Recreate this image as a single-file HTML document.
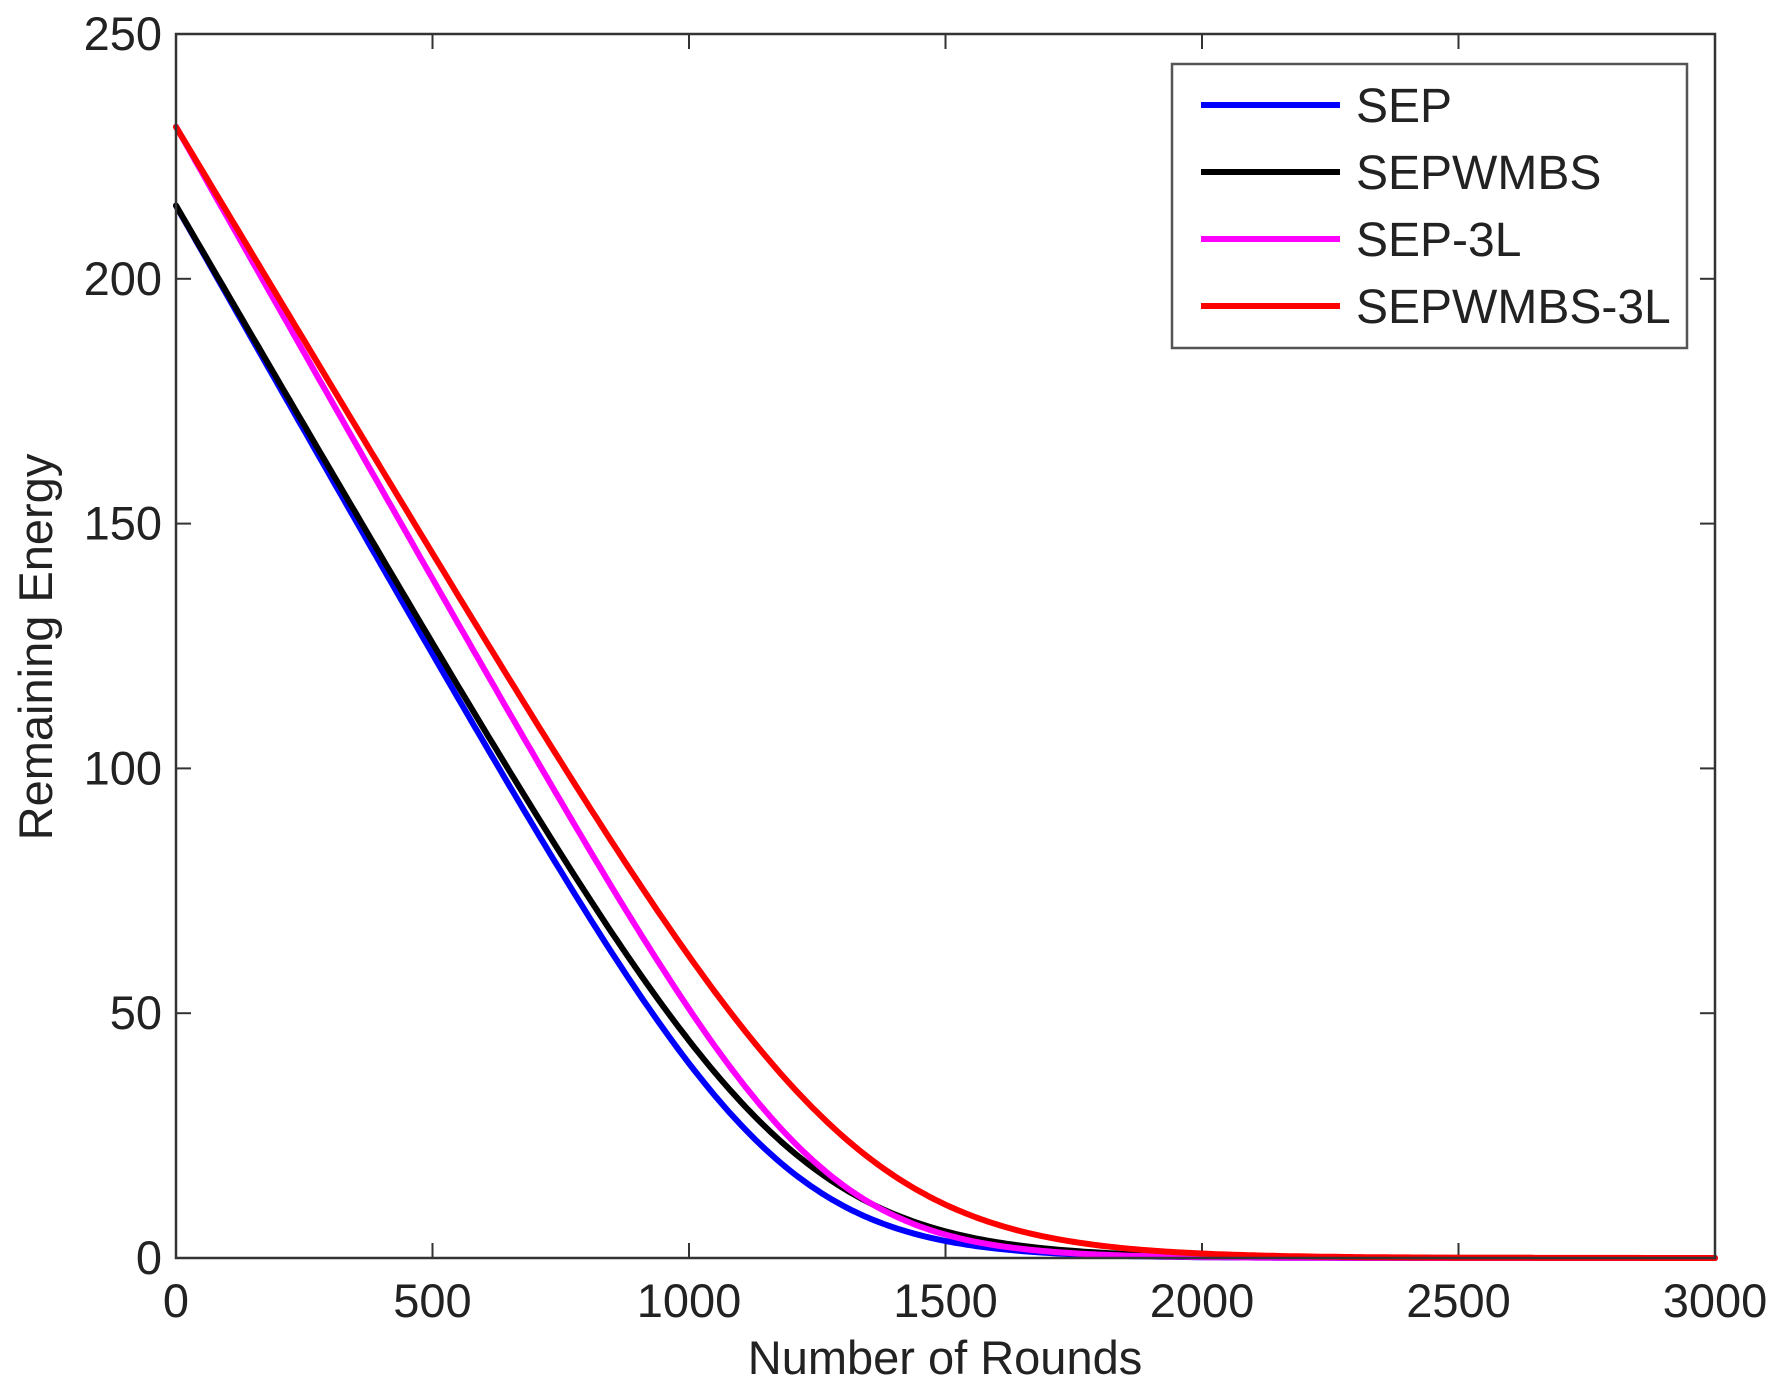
<!DOCTYPE html>
<html><head><meta charset="utf-8"><style>
html,body{margin:0;padding:0;background:#fff;}
svg{display:block;}
text{font-family:"Liberation Sans",Arial,sans-serif;fill:#222;}
</style></head><body>
<svg id="s" width="1781" height="1391" viewBox="0 0 1781 1391" xmlns="http://www.w3.org/2000/svg">
<rect width="1781" height="1391" fill="#fff"/>
<g id="ticks" stroke="#333" stroke-width="2"></g>
<g id="curves" fill="none" stroke-width="6" stroke-linejoin="round" stroke-linecap="round"></g>
<rect x="176" y="34" width="1539" height="1224" fill="none" stroke="#333" stroke-width="2.5"/>
<g font-size="47" text-anchor="end" id="yl"></g>
<g font-size="47" text-anchor="middle" id="xl"></g>
<text x="945" y="1374" font-size="47" text-anchor="middle">Number of Rounds</text>
<text transform="translate(52,647) rotate(-90)" font-size="47" text-anchor="middle">Remaining Energy</text>
<rect x="1172" y="64" width="515" height="284" fill="#fff" stroke="#555" stroke-width="2.5"/>
<g stroke-width="6">
<line x1="1201" y1="105" x2="1340" y2="105" stroke="#0000ff"/>
<line x1="1201" y1="172" x2="1340" y2="172" stroke="#000"/>
<line x1="1201" y1="239" x2="1340" y2="239" stroke="#ff00ff"/>
<line x1="1201" y1="306" x2="1340" y2="306" stroke="#ff0000"/>
</g>
<g font-size="48">
<text x="1356" y="122">SEP</text>
<text x="1356" y="189">SEPWMBS</text>
<text x="1356" y="256">SEP-3L</text>
<text x="1356" y="323">SEPWMBS-3L</text>
</g>
</svg>
<script>
var NS="http://www.w3.org/2000/svg";
function X(r){return 176+r*1539/3000;}
function Y(v){return 1258-v*1224/250;}
var t=document.getElementById('ticks'),yl=document.getElementById('yl'),xl=document.getElementById('xl');
function el(p,n,a,txt){var e=document.createElementNS(NS,n);for(var k in a)e.setAttribute(k,a[k]);if(txt!==undefined)e.textContent=txt;p.appendChild(e);}
for(var v=0;v<=250;v+=50){var y=Y(v);el(t,'line',{x1:176,y1:y,x2:191,y2:y});el(t,'line',{x1:1700,y1:y,x2:1715,y2:y});el(yl,'text',{x:162,y:y+16},v);}
for(var r=0;r<=3000;r+=500){var x=X(r);el(t,'line',{x1:x,y1:1258,x2:x,y2:1243});el(t,'line',{x1:x,y1:34,x2:x,y2:49});el(xl,'text',{x:x,y:1317},r);}
var S=[["#0000ff",0.184,1168,160],["#000000",0.18,1194,180],["#ff00ff",0.185,1249,150],["#ff0000",0.175,1320,190]];
var g=document.getElementById('curves');
S.forEach(function(c){var s=c[1],r0=c[2],w=c[3],d="";
for(var r=0;r<=3000;r+=10){var v=s*w*Math.log(1+Math.exp((r0-r)/w));d+=(r?"L":"M")+X(r).toFixed(1)+","+Y(v).toFixed(1);}
el(g,'path',{d:d,stroke:c[0]});});
</script>
</body></html>
